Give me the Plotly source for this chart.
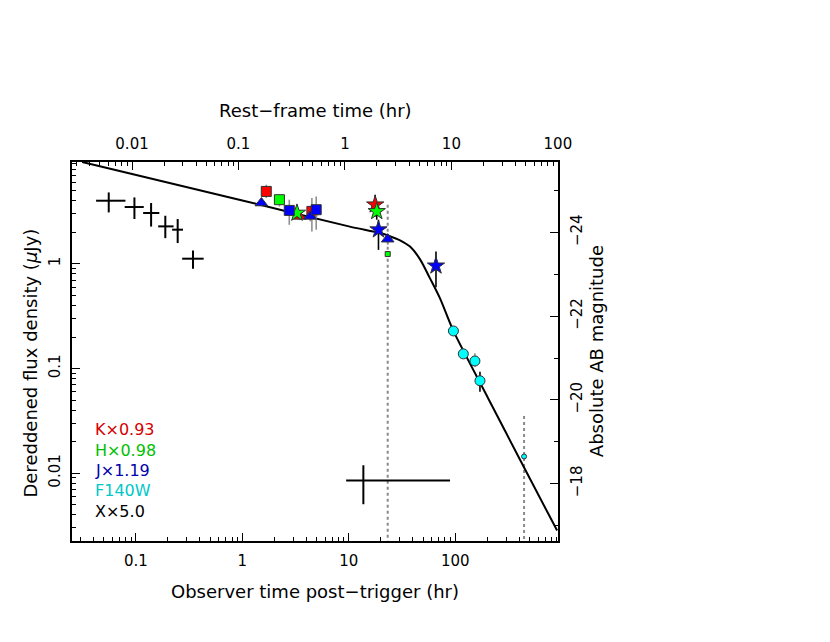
import numpy as np
import plotly.graph_objects as go

# ---------------- data ----------------
ONE_PLUS_Z = 9.2   # observer time / rest-frame time

# X-ray (scaled x5.0): time (hr), time range, flux (uJy), flux range
xrt_t    = [0.0556, 0.0969, 0.139, 0.189, 0.247, 0.344, 13.7]
xrt_t_lo = [0.0423, 0.0785, 0.117, 0.162, 0.219, 0.272, 9.44]
xrt_t_hi = [0.0798, 0.1186, 0.166, 0.226, 0.277, 0.433, 89.3]
xrt_f    = [4.01, 3.49, 3.06, 2.28, 2.12, 1.12, 0.0085]
xrt_f_lo = [3.10, 2.68, 2.27, 1.76, 1.58, 0.896, 0.00505]
xrt_f_hi = [4.81, 4.31, 3.81, 2.88, 2.68, 1.34, 0.0119]

# K band (x0.93)
K_t    = [1.678, 3.44, 4.50, 17.7]
K_f    = [4.92, 2.84, 3.17, 3.67]
K_f_lo = [4.25, 2.62, 2.04, 2.84]
K_f_hi = [5.70, 3.05, 4.25, 4.57]
K_sym  = ["square", "triangle-up", "square", "star"]
K_dark = [False, False, False, True]

# H band (x0.98)
H_t    = [2.23, 3.26, 18.3, 23.2]
H_f    = [4.10, 3.06, 3.17, 1.24]
H_f_lo = [3.53, 2.88, 2.64, 1.24]
H_f_hi = [4.57, 3.25, 3.53, 1.24]
H_sym  = ["square", "star", "star", "square"]
H_dark = [False, False, True, False]
H_small = [False, False, False, True]

# J band (x1.19)
J_t    = [1.51, 2.76, 4.34, 4.94, 19.0, 23.2, 65.9]
J_f    = [3.81, 3.24, 2.84, 3.29, 2.12, 1.72, 0.957]
J_f_lo = [3.62, 2.36, 2.55, 2.12, 1.36, 1.52, 0.598]
J_f_hi = [4.00, 4.10, 3.15, 4.40, 2.64, 1.90, 1.31]
J_sym  = ["triangle-up", "square", "triangle-up", "square", "star", "triangle-up", "star"]
J_dark = [False, False, False, False, True, False, True]

# HST F140W
F_t    = [96.1, 119.0, 153.0, 170.6, 443.0]
F_f    = [0.2285, 0.138, 0.118, 0.0764, 0.01445]
F_f_lo = [0.215, 0.128, 0.104, 0.060, 0.01445]
F_f_hi = [0.240, 0.148, 0.1396, 0.0932, 0.01445]
F_small = [False, False, False, False, True]
F_dark  = [False, False, False, True, False]

# fitted model light curve
model_t = [0.0313, 1.0, 10.0, 19.7, 24.4, 30.3, 37.6, 46.7, 57.9, 71.9,
           96.1, 204.6, 443.0, 905.0]
model_f = [9.40, 4.03, 2.28, 1.967, 1.833, 1.679, 1.461, 1.104, 0.7266, 0.4677,
           0.2285, 0.0515, 0.01132, 0.00283]

# dotted epochs
epoch_t   = [23.2, 443.0]
epoch_top = [3.67, 0.0351]
AXIS_FLOOR = 0.001

legend_labels = ["K×0.93", "H×0.98", "J×1.19", "F140W", "X×5.0"]
legend_colors = ["#d40000", "#00c000", "#0000a8", "#00c8c8", "#000000"]

# axis ranges (log10 hr / log10 uJy) and magnitude scale
X_RANGE = [-1.60, 2.965]
Y_RANGE = [-2.648, 0.973]
MAG_ZERO = -23.25   # absolute AB mag corresponding to 1 uJy

FONT = "DejaVu Sans"
PAGE_OFFSET = 8   # default body margin of the html page

fig = go.Figure()

# dotted vertical epoch lines
for t, top in zip(epoch_t, epoch_top):
    fig.add_trace(go.Scatter(x=[t, t], y=[top, AXIS_FLOOR], mode="lines",
                             line=dict(color="#8a8a8a", width=2, dash="dot"),
                             hoverinfo="skip", showlegend=False))

# model
fig.add_trace(go.Scatter(x=model_t, y=model_f, mode="lines",
                         line=dict(color="black", width=2, shape="spline", smoothing=0.8),
                         hoverinfo="skip", showlegend=False))

# X-ray crosses
xa = np.array
fig.add_trace(go.Scatter(
    x=xrt_t, y=xrt_f, mode="markers",
    marker=dict(size=1, color="rgba(0,0,0,0)"),
    error_x=dict(type="data", symmetric=False,
                 array=(xa(xrt_t_hi) - xa(xrt_t)).tolist(),
                 arrayminus=(xa(xrt_t) - xa(xrt_t_lo)).tolist(),
                 color="black", thickness=2, width=0),
    error_y=dict(type="data", symmetric=False,
                 array=(xa(xrt_f_hi) - xa(xrt_f)).tolist(),
                 arrayminus=(xa(xrt_f) - xa(xrt_f_lo)).tolist(),
                 color="black", thickness=2, width=0),
    hoverinfo="skip", showlegend=False))

SIZE = {"square": 10, "triangle-up": 11, "star": 13, "circle": 10}


def add_band(t, f, lo, hi, sym, dark, small, color):
    t = xa(t); f = xa(f); lo = xa(lo); hi = xa(hi)
    dark = xa(dark); small = xa(small); sym = xa(sym)
    for is_dark in (False, True):
        idx = np.where(dark == is_dark)[0]
        if len(idx) == 0:
            continue
        sizes = [5 if small[i] else SIZE[sym[i]] for i in idx]
        fig.add_trace(go.Scatter(
            x=t[idx], y=f[idx], mode="markers",
            marker=dict(symbol=sym[idx].tolist(), size=sizes, color=color,
                        opacity=1, line=dict(color="#303030", width=1)),
            error_y=dict(type="data", symmetric=False,
                         array=(hi[idx] - f[idx]).tolist(),
                         arrayminus=(f[idx] - lo[idx]).tolist(),
                         color="black" if is_dark else "#909090",
                         thickness=1.6, width=0),
            hoverinfo="skip", showlegend=False))


add_band(K_t, K_f, K_f_lo, K_f_hi, K_sym, K_dark, [False] * len(K_t), "#ff0000")
add_band(H_t, H_f, H_f_lo, H_f_hi, H_sym, H_dark, H_small, "#00ff00")
add_band(J_t, J_f, J_f_lo, J_f_hi, J_sym, J_dark, [False] * len(J_t), "#0000ff")
add_band(F_t, F_f, F_f_lo, F_f_hi, ["circle"] * len(F_t), F_dark, F_small, "#00ffff")

# empty traces to bind the secondary axes
fig.add_trace(go.Scatter(x=[], y=[], xaxis="x2", yaxis="y", showlegend=False))
fig.add_trace(go.Scatter(x=[], y=[], xaxis="x", yaxis="y2", showlegend=False))


def log_minor(lo_exp, hi_exp):
    return [k * 10.0 ** d for d in range(lo_exp, hi_exp + 1) for k in range(2, 10)]


tickfont = dict(family=FONT, size=15, color="black")
common = dict(showline=True, linecolor="black", linewidth=1.5, ticks="inside",
              tickcolor="black", tickwidth=1.3, showgrid=False, zeroline=False,
              tickfont=tickfont)

rest_off = np.log10(ONE_PLUS_Z)

fig.update_layout(
    width=830 - PAGE_OFFSET, height=642 - PAGE_OFFSET,
    margin=dict(l=72 - PAGE_OFFSET, r=272, t=162 - PAGE_OFFSET, b=101),
    paper_bgcolor="white", plot_bgcolor="white",
    showlegend=False,
    xaxis=dict(type="log", range=X_RANGE, side="bottom", ticklen=8,
               tickvals=[0.1, 1, 10, 100], ticktext=["0.1", "1", "10", "100"],
               ticklabelstandoff=5,
               minor=dict(tickvals=log_minor(-2, 2), ticks="inside", ticklen=4,
                          tickcolor="black", tickwidth=1.2, showgrid=False),
               **common),
    xaxis2=dict(type="log", range=[X_RANGE[0] - rest_off, X_RANGE[1] - rest_off],
                overlaying="x", anchor="y", side="top", ticklen=8,
                tickvals=[0.01, 0.1, 1, 10, 100],
                ticktext=["0.01", "0.1", "1", "10", "100"],
                ticklabelstandoff=5,
                minor=dict(tickvals=log_minor(-3, 1), ticks="inside", ticklen=4,
                           tickcolor="black", tickwidth=1.2, showgrid=False),
                **common),
    yaxis=dict(type="log", range=Y_RANGE, side="left", ticklen=8,
               tickvals=[0.01, 0.1, 1], ticktext=["0.01", "0.1", "1"],
               tickangle=-90, ticklabelstandoff=4,
               minor=dict(tickvals=log_minor(-3, 0), ticks="inside", ticklen=4,
                          tickcolor="black", tickwidth=1.2, showgrid=False),
               **common),
    yaxis2=dict(type="linear",
                range=[-2.5 * Y_RANGE[0] + MAG_ZERO, -2.5 * Y_RANGE[1] + MAG_ZERO],
                overlaying="y", anchor="x", side="right", ticklen=8,
                tickvals=[-24, -22, -20, -18], ticktext=["−24", "−22", "−20", "−18"],
                tickangle=-90, ticklabelstandoff=4,
                minor=dict(tickvals=[-25, -23, -21, -19, -17], ticks="inside",
                           ticklen=4, tickcolor="black", tickwidth=1.2, showgrid=False),
                **common),
)

titlefont = dict(family=FONT, size=18, color="black")
ann = [
    dict(text="Observer time post−trigger (hr)", x=0.5, y=-0.133,
         xref="paper", yref="paper", xanchor="center", yanchor="middle",
         showarrow=False, font=titlefont),
    dict(text="Rest−frame time (hr)", x=0.5, y=1.136,
         xref="paper", yref="paper", xanchor="center", yanchor="middle",
         showarrow=False, font=titlefont),
    dict(text="Dereddened flux density (<i>μ</i>Jy)", x=-0.085, y=0.47,
         xref="paper", yref="paper", xanchor="center", yanchor="middle",
         textangle=-90, showarrow=False, font=titlefont),
    dict(text="Absolute AB magnitude", x=1.0795, y=0.5,
         xref="paper", yref="paper", xanchor="center", yanchor="middle",
         textangle=-90, showarrow=False, font=titlefont),
]
leg_y = [0.295, 0.240, 0.187, 0.132, 0.078]
for lab, col, yy in zip(legend_labels, legend_colors, leg_y):
    ann.append(dict(text=lab, x=0.044, y=yy, xref="paper", yref="paper",
                    xanchor="left", yanchor="middle", showarrow=False,
                    font=dict(family=FONT, size=16, color=col)))
fig.update_layout(annotations=ann)

fig.write_html("out.html")
